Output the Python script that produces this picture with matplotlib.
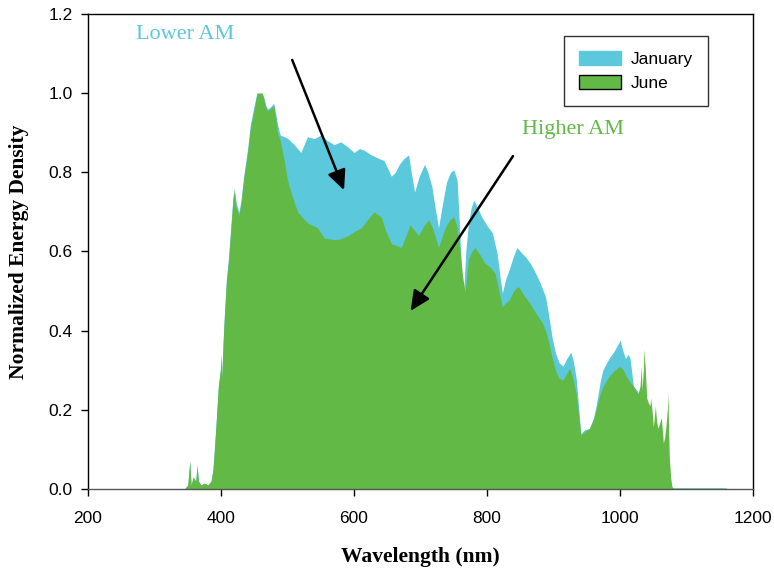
import matplotlib
matplotlib.use("Agg")
import matplotlib.pyplot as plt
from matplotlib.patches import Patch

# ---- data ----
jan_nm = [345, 350, 353, 355, 358, 362, 364, 366, 370, 375, 380, 385, 388, 392, 396, 399, 400, 401,
          404, 408, 411, 415, 418, 420, 423, 427, 430, 434, 440, 444, 450, 454, 458, 462, 465, 467,
          470, 474, 477, 479, 482, 485, 489, 495, 500, 510, 520, 530, 540, 550, 560, 570, 580, 590,
          600, 608, 615, 625, 636, 645, 656, 662, 668, 675, 682, 686, 691, 698, 706, 711, 717, 722,
          727, 733, 739, 745, 750, 755, 758, 762, 765, 768, 772, 776, 780, 786, 792, 800, 808, 815,
          820, 823, 828, 833, 840, 845, 850, 858, 865, 873, 880, 888, 893, 898, 903, 908, 914, 920,
          926, 930, 934, 938, 941, 947, 954, 960, 964, 970, 974, 980, 985, 990, 995, 1000, 1004,
          1008, 1012, 1015, 1020, 1027, 1030, 1040, 1050, 1060, 1065, 1070, 1075, 1080, 1160, 1161]
jan_val = [0.0, 0.01, 0.07, 0.01, 0.03, 0.02, 0.06, 0.02, 0.01, 0.015, 0.01, 0.02, 0.05, 0.15, 0.26,
           0.30, 0.34, 0.28, 0.41, 0.53, 0.58, 0.67, 0.74, 0.76, 0.72, 0.70, 0.73, 0.79, 0.86, 0.92,
           0.97, 1.0, 1.0, 1.0, 0.985, 0.97, 0.96, 0.965, 0.97, 0.975, 0.95, 0.92, 0.894, 0.89, 0.886,
           0.87, 0.85, 0.89, 0.885, 0.894, 0.88, 0.87, 0.877, 0.865, 0.85, 0.86, 0.856, 0.845, 0.836,
           0.83, 0.79, 0.80, 0.82, 0.835, 0.844, 0.80, 0.75, 0.79, 0.82, 0.80, 0.764, 0.71, 0.66, 0.72,
           0.775, 0.80, 0.806, 0.78, 0.68, 0.53, 0.50, 0.60, 0.67, 0.71, 0.73, 0.71, 0.687, 0.665,
           0.647, 0.596, 0.53, 0.495, 0.53, 0.553, 0.59, 0.61, 0.60, 0.586, 0.57, 0.545, 0.52, 0.485,
           0.435, 0.38, 0.343, 0.32, 0.31, 0.33, 0.346, 0.32, 0.28, 0.20, 0.14, 0.15, 0.153, 0.18,
           0.21, 0.27, 0.30, 0.32, 0.334, 0.345, 0.36, 0.376, 0.35, 0.33, 0.34, 0.33, 0.26, 0.245,
           0.23, 0.20, 0.14, 0.10, 0.10, 0.05, 0.01, 0.003, 0.003, 0.0]

jun_nm = [345, 350, 353, 355, 358, 362, 364, 366, 370, 375, 380, 385, 388, 392, 396, 399, 400, 401,
          404, 408, 411, 415, 418, 420, 423, 427, 430, 434, 440, 444, 450, 454, 458, 462, 465, 467,
          470, 474, 477, 479, 482, 485, 489, 495, 500, 505, 515, 530, 545, 555, 570, 580, 591, 600,
          611, 620, 630, 641, 648, 656, 664, 671, 678, 684, 690, 697, 705, 712, 718, 727, 732, 737,
          744, 750, 755, 759, 763, 767, 770, 772, 777, 782, 790, 797, 805, 812, 818, 823, 828, 833,
          840, 845, 848, 855, 864, 873, 883, 888, 893, 898, 903, 908, 914, 919, 924, 929, 934, 938,
          941, 947, 954, 960, 964, 970, 974, 980, 985, 992, 1000, 1005, 1010, 1015, 1020, 1025, 1027,
          1030, 1032, 1033, 1035, 1036, 1038, 1040, 1042, 1045, 1046, 1048, 1050, 1052, 1053, 1055,
          1057, 1060, 1062, 1064, 1065, 1067, 1069, 1071, 1072, 1073, 1074, 1076, 1078, 1080, 1155, 1156]
jun_val = [0.0, 0.01, 0.07, 0.01, 0.03, 0.02, 0.06, 0.02, 0.01, 0.015, 0.01, 0.02, 0.05, 0.15, 0.26,
           0.30, 0.34, 0.28, 0.40, 0.52, 0.57, 0.66, 0.73, 0.75, 0.71, 0.69, 0.72, 0.78, 0.85, 0.91,
           0.96, 1.0, 1.0, 1.0, 0.98, 0.965, 0.955, 0.96, 0.965, 0.97, 0.94, 0.90, 0.88, 0.83, 0.78,
           0.75, 0.70, 0.672, 0.66, 0.634, 0.63, 0.632, 0.64, 0.65, 0.66, 0.68, 0.70, 0.687, 0.65,
           0.62, 0.615, 0.61, 0.64, 0.667, 0.655, 0.64, 0.665, 0.68, 0.66, 0.61, 0.635, 0.66, 0.68,
           0.687, 0.66, 0.61, 0.54, 0.495, 0.55, 0.58, 0.60, 0.61, 0.59, 0.57, 0.56, 0.545, 0.50,
           0.46, 0.47, 0.477, 0.50, 0.51, 0.51, 0.49, 0.47, 0.445, 0.42, 0.40, 0.37, 0.33, 0.30, 0.28,
           0.275, 0.29, 0.305, 0.28, 0.24, 0.18, 0.136, 0.145, 0.153, 0.175, 0.20, 0.24, 0.258, 0.275,
           0.288, 0.30, 0.31, 0.30, 0.283, 0.27, 0.26, 0.245, 0.24, 0.26, 0.31, 0.25, 0.30, 0.353,
           0.30, 0.23, 0.22, 0.21, 0.23, 0.20, 0.157, 0.19, 0.21, 0.17, 0.153, 0.17, 0.18, 0.14, 0.116,
           0.13, 0.16, 0.20, 0.243, 0.15, 0.08, 0.03, 0.005, 0.002, 0.002, 0.0]

series_labels = ["January", "June"]
x_ticks = [200, 400, 600, 800, 1000, 1200]
y_ticks = [0.0, 0.2, 0.4, 0.6, 0.8, 1.0, 1.2]

JAN_C = "#5BC8DC"
JUN_C = "#62B946"

fig = plt.figure(figsize=(7.74, 5.73), dpi=100)
ax = fig.add_axes([0.1137, 0.1466, 0.8593, 0.829])

ax.fill_between(jan_nm, jan_val, 0, color=JAN_C, linewidth=0)
ax.fill_between(jun_nm, jun_val, 0, color=JUN_C, linewidth=0)

ax.set_xlim(200, 1200)
ax.set_ylim(0, 1.2)
ax.set_xticks(x_ticks)
ax.set_yticks(y_ticks)
ax.set_yticklabels([f"{v:.1f}" for v in y_ticks])
ax.tick_params(direction="out", length=5, width=1, labelsize=12.5, top=False, right=False)
ax.tick_params(axis="x", pad=11)
ax.tick_params(axis="y", pad=6)
for lab in ax.get_xticklabels() + ax.get_yticklabels():
    lab.set_fontfamily("Liberation Sans")
for s in ax.spines.values():
    s.set_linewidth(1.0)
ax.spines["bottom"].set_color("#555555")

ax.set_xlabel("Wavelength (nm)", fontfamily="Liberation Serif", fontweight="bold", fontsize=15.5, labelpad=15)
ax.set_ylabel("Normalized Energy Density", fontfamily="Liberation Serif", fontweight="bold", fontsize=15.5, labelpad=14)

handles = [Patch(facecolor=JAN_C, edgecolor=JAN_C), Patch(facecolor=JUN_C, edgecolor="black")]
leg = ax.legend(handles, series_labels, loc="upper right", bbox_to_anchor=(0.932, 0.954),
                borderaxespad=0, prop={"family": "Liberation Sans", "size": 12.5}, frameon=True,
                fancybox=False, edgecolor="black", handlelength=2.45, handleheight=0.9,
                handletextpad=0.57, borderpad=0.85, labelspacing=0.45)
leg.get_frame().set_linewidth(1.0)

ax.text(346.5, 1.147, "Lower AM", color=JAN_C, fontfamily="Liberation Serif", fontsize=16, ha="center", va="center")
ax.text(929, 0.907, "Higher AM", color=JUN_C, fontfamily="Liberation Serif", fontsize=16, ha="center", va="center")

arrow = dict(arrowstyle="-|>,head_length=0.6,head_width=0.28", mutation_scale=20, lw=1.8,
             color="black", shrinkA=0, shrinkB=0)
ax.annotate("", xy=(585, 0.755), xytext=(507, 1.084), arrowprops=arrow)
ax.annotate("", xy=(685, 0.45), xytext=(839, 0.841), arrowprops=arrow)

fig.savefig("out.png", dpi=100)
